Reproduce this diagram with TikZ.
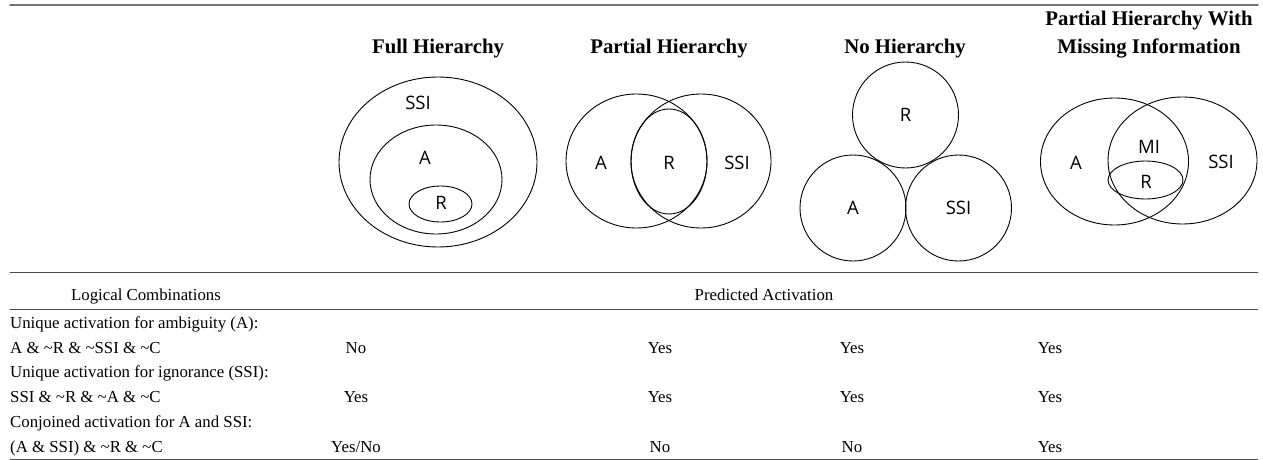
\documentclass[tikz,border=0pt]{standalone}
\usepackage{fontspec}
\setmainfont{Liberation Serif}
\newfontfamily\vennfont{Open Sans}
\begin{document}
\begin{tikzpicture}[x=1pt,y=-1pt,line cap=round,line join=round,
 set/.style={draw=black,line width=0.9pt},
 lbl/.style={font=\vennfont\fontsize{18.5}{21}\selectfont,inner sep=0pt},
 hdr/.style={font=\bfseries\fontsize{20.8}{26}\selectfont,inner sep=0pt,anchor=base},
 cell/.style={font=\fontsize{16.8}{19}\selectfont,inner sep=0pt,anchor=base},
 rule/.style={draw=black!70,line width=0.9pt}]
\useasboundingbox (0,0) rectangle (1263,460);
\draw[draw=black!55,line width=1.6pt](10,5)--(1258,5);
\foreach \y in {272,309,459} \draw[rule](10,\y)--(1258,\y);
% headers
\node[hdr] (hFull) at (438,53) {Full Hierarchy};
\node[hdr] (hPart) at (669,53) {Partial Hierarchy};
\node[hdr] (hNone) at (905,53) {No Hierarchy};
\node[hdr] (hMIa) at (1149,26) {Partial Hierarchy With};
\node[hdr] (hMIb) at (1149,53) {Missing Information};
% sets
\foreach \x/\y/\a/\b in {438/162/99/85,436/179.5/66/54.5,440.5/204/31.5/18,
 636.5/161/70.5/67,701/161/70/67,669/161.5/38/52.5,
 905.5/115/53/53,853/208/53/53,958.5/208/53/53,
 1114.5/161.5/74/63.5,1182.5/160.5/74.5/63.5,1145.5/180/37.5/19}
 \draw[set](\x,\y)ellipse[x radius=\a,y radius=\b];
\foreach \n/\x/\y/\t in {fSSI/418/103/SSI,fA/425/158/A,fR/441/203/R,
 pA/601/163/A,pR/669/163/R,pSSI/737/163/SSI,
 nR/905.5/115/R,nA/853/208/A,nSSI/958.5/208/SSI,
 mA/1076/163/A,mMI/1149/147/MI,mR/1146/182/R,mSSI/1221/162/SSI}
 \node[lbl] (\n) at (\x,\y) {\t};
% table
\node[cell] (hLog) at (146,300) {Logical Combinations};
\node[cell] (hPred) at (764,300) {Predicted Activation};
\foreach \y/\t [count=\i] in {328/Unique activation for ambiguity (A):,
 353/A \& \textasciitilde R \& \textasciitilde SSI \& \textasciitilde C,
 377/Unique activation for ignorance (SSI):,
 402/SSI \& \textasciitilde R \& \textasciitilde A \& \textasciitilde C,
 427/Conjoined activation for A and SSI:,
 452/(A \& SSI) \& \textasciitilde R \& \textasciitilde C}
 \node[cell,anchor=base west] (row\i) at (10,\y) {\t};
\foreach \y/\p/\q/\s/\u [count=\i] in {353/No/Yes/Yes/Yes,402/Yes/Yes/Yes/Yes,452/{Yes/No}/No/No/Yes}{
 \node[cell] (full\i) at (356,\y) {\p};
 \node[cell] (part\i) at (660,\y) {\q};
 \node[cell] (none\i) at (852,\y) {\s};
 \node[cell] (miss\i) at (1050,\y) {\u};}
\end{tikzpicture}
\end{document}
